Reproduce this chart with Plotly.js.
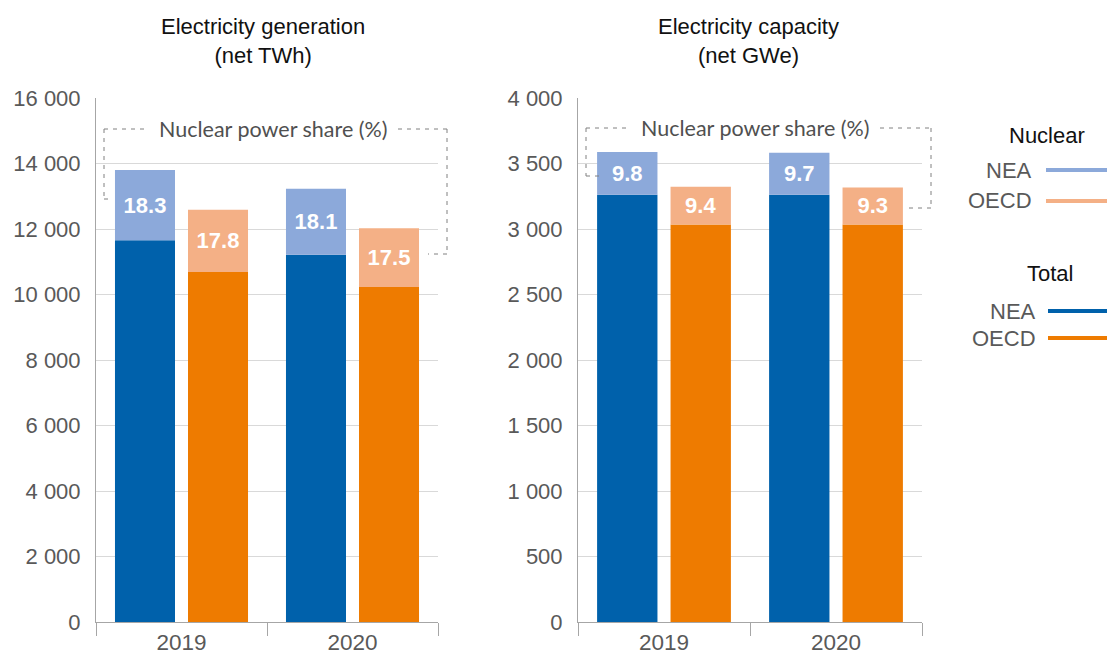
<!DOCTYPE html>
<html>
<head>
<meta charset="utf-8">
<script src="https://cdn.plot.ly/plotly-3.0.1.min.js"></script>
<style>html,body{margin:0;padding:0;background:#fff;}#chart{width:1107px;height:658px;}</style>
</head>
<body>
<div id="chart"></div>
<script>
// ---- data ----
const years = ['2019', '2020'];
const seriesNames = ['NEA', 'OECD'];
// Electricity generation (net TWh)
const genTotalNEA = [11660, 11210];
const genNuclearNEA = [2140, 2020];
const genTotalOECD = [10690, 10230];
const genNuclearOECD = [1900, 1790];
const genShareNEA = ['18.3', '18.1'];
const genShareOECD = ['17.8', '17.5'];
// Electricity capacity (net GWe)
const capTotalNEA = [3262, 3262];
const capNuclearNEA = [325, 320];
const capTotalOECD = [3035, 3035];
const capNuclearOECD = [288, 282];
const capShareNEA = ['9.8', '9.7'];
const capShareOECD = ['9.4', '9.3'];
const panelTitles = ['Electricity generation<br>(net TWh)', 'Electricity capacity<br>(net GWe)'];
const shareLabel = 'Nuclear power share (%)';
const legendHeaders = ['Nuclear', 'Total'];

// ---- style ----
const C = {neaDark:'#0061AB', oecdDark:'#EE7B00', neaLight:'#8CA9DA', oecdLight:'#F4B086'};
const W = 1107, H = 658;
const px = x => x / W, py = y => 1 - y / H;
const FONT = 'Liberation Sans, Arial, sans-serif';

function pair(xa, ya, total, nuc, share, dark, light, grp) {
  return [
    {type:'bar', x:years, y:total, xaxis:xa, yaxis:ya, offsetgroup:grp,
     marker:{color:dark, line:{width:0}}, hoverinfo:'skip'},
    {type:'bar', x:years, y:nuc, base:total, xaxis:xa, yaxis:ya, offsetgroup:grp,
     marker:{color:light, line:{width:0}}, text:share, textposition:'inside',
     insidetextanchor:'middle', textangle:0, constraintext:'none',
     textfont:{color:'#ffffff', size:22, family:FONT, weight:'bold'}, hoverinfo:'skip'}
  ];
}

const data = [
  ...pair('x','y', genTotalNEA, genNuclearNEA, genShareNEA, C.neaDark, C.neaLight, 'nea'),
  ...pair('x','y', genTotalOECD, genNuclearOECD, genShareOECD, C.oecdDark, C.oecdLight, 'oecd'),
  ...pair('x2','y2', capTotalNEA, capNuclearNEA, capShareNEA, C.neaDark, C.neaLight, 'nea'),
  ...pair('x2','y2', capTotalOECD, capNuclearOECD, capShareOECD, C.oecdDark, C.oecdLight, 'oecd'),
];

const xax = d => ({domain:d, type:'category', tickson:'boundaries', ticks:'outside', ticklen:13,
  tickcolor:'#a6a6a6', tickwidth:1, showline:true, linecolor:'#a6a6a6', linewidth:1,
  showgrid:false, tickfont:{size:22.5, family:FONT, color:'#595959'}, fixedrange:true});
const yax = (r, dt, xa) => ({domain:[1-622/H, 1-98/H], range:r, dtick:dt, tickformat:',.0f',
  showgrid:true, gridcolor:'#d9d9d9', gridwidth:1, showline:true, linecolor:'#a6a6a6', linewidth:1,
  zeroline:false, ticks:'', ticklabelstandoff:10, anchor:xa,
  tickfont:{size:22, family:FONT, color:'#595959'}, fixedrange:true});

const layout = {
  width:W, height:H, margin:{l:0, r:0, t:0, b:0}, paper_bgcolor:'#fff', plot_bgcolor:'#fff',
  showlegend:false, separators:'. ', barmode:'group', bargap:0.146, bargroupgap:0.178,
  xaxis: Object.assign(xax([px(96), px(438)]), {anchor:'y'}),
  yaxis: yax([0,16000], 2000, 'x'),
  xaxis2: Object.assign(xax([px(578), px(922)]), {anchor:'y2'}),
  yaxis2: yax([0,4000], 500, 'x2'),
  annotations: [], shapes: []
};

// panel titles
[[263, panelTitles[0]], [748, panelTitles[1]]].forEach(([cx, t]) => {
  layout.annotations.push({xref:'paper', yref:'paper', x:px(cx), y:py(41), xanchor:'center', yanchor:'middle',
    text:t, showarrow:false, font:{size:22, family:FONT, color:'#111'}});
});

// nuclear share brackets
function bracket(l, r, top, lb, ls, rb, rs, g1, g2, tcx) {
  const ln = (x0,y0,x1,y1) => layout.shapes.push({type:'line', xref:'paper', yref:'paper',
    x0:px(x0), y0:py(y0), x1:px(x1), y1:py(y1), line:{color:'#808080', width:1, dash:'4px,5px'}});
  ln(l, top, g1, top); ln(g2, top, r, top);
  ln(l, top, l, lb); ln(l, lb, ls, lb);
  ln(r, top, r, rb); ln(r, rb, rs, rb);
  layout.annotations.push({xref:'paper', yref:'paper', x:px(tcx), y:py(top), xanchor:'center', yanchor:'middle',
    text:shareLabel, showarrow:false, font:{size:21.5, family:'Lato, Open Sans, sans-serif', color:'#505050'}});
}
bracket(104, 447, 129, 199, 111, 254, 428, 147, 398, 273);
bracket(586, 931, 128, 176, 599, 208, 908, 628, 880, 755);

// legend
const legendRows = [
  {header:legendHeaders[0], hx:1047, hy:135, items:[[seriesNames[0], C.neaLight, 170], [seriesNames[1], C.oecdLight, 201]], lx:1034, sx:1046},
  {header:legendHeaders[1], hx:1050, hy:273, items:[[seriesNames[0], C.neaDark, 311], [seriesNames[1], C.oecdDark, 338]], lx:1038, sx:1048},
];
legendRows.forEach(g => {
  layout.annotations.push({xref:'paper', yref:'paper', x:px(g.hx), y:py(g.hy), xanchor:'center', yanchor:'middle',
    text:g.header, showarrow:false, font:{size:22, family:FONT, color:'#111'}});
  g.items.forEach(([name, col, yy]) => {
    layout.annotations.push({xref:'paper', yref:'paper', x:px(g.lx), y:py(yy), xanchor:'right', yanchor:'middle',
      text:name, showarrow:false, font:{size:22, family:FONT, color:'#595959'}});
    layout.shapes.push({type:'line', xref:'paper', yref:'paper', x0:px(g.sx), x1:px(1110), y0:py(yy), y1:py(yy),
      line:{color:col, width:4}});
  });
});

Plotly.newPlot('chart', data, layout, {displayModeBar:false, staticPlot:true});
</script>
</body>
</html>
